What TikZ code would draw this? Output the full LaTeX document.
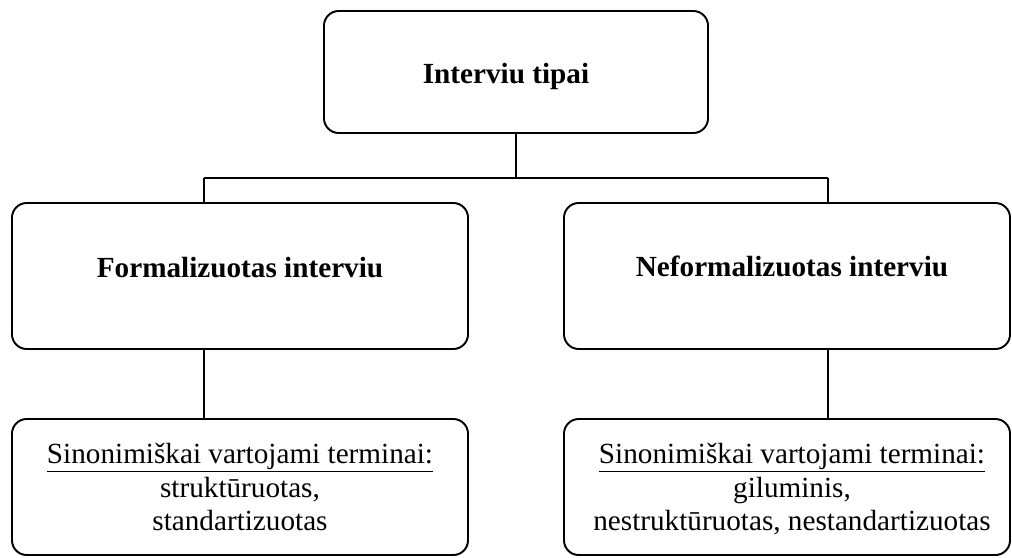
\documentclass[tikz,border=0pt]{standalone}
\usepackage{fontspec}
\setmainfont{Liberation Serif}
\newcommand{\myul}[1]{\tikz[baseline=(u.base)]{\node[inner sep=0pt] (u) {#1};\draw[line width=0.9pt] ([yshift=-2.2pt]u.base west) -- ([yshift=-2.2pt]u.base east);}}
\begin{document}
\begin{tikzpicture}[x=0.75pt,y=-0.75pt,
  box/.style={draw=black,line width=1.45pt,rounded corners=11pt,inner sep=0pt},
  lbl/.style={anchor=base,inner sep=0pt,font=\fontsize{21.9}{25.2}\selectfont},
  conn/.style={draw=black,line width=1.45pt}]
\useasboundingbox (0,0) rectangle (1012,557);
% boxes
\node[box,minimum width=384*0.75pt,minimum height=122*0.75pt] (top) at (516,72) {};
\node[box,minimum width=456*0.75pt,minimum height=146*0.75pt] (left) at (240,276) {};
\node[box,minimum width=446*0.75pt,minimum height=146*0.75pt] (right) at (787,276) {};
\node[box,minimum width=456*0.75pt,minimum height=136*0.75pt] (botl) at (240,487) {};
\node[box,minimum width=446*0.75pt,minimum height=136*0.75pt] (botr) at (787,487) {};
% texts
\node[lbl] (ttop) at (506,83) {\textbf{Interviu tipai}};
\node[lbl] (tleft) at (240,277) {\textbf{Formalizuotas interviu}};
\node[lbl] (tright) at (792,276) {\textbf{Neformalizuotas interviu}};
\node[lbl] (bl1) at (240,463) {\underline{Sinonimiškai vartojami terminai:}};
\node[lbl] (bl2) at (240,497) {struktūruotas,};
\node[lbl] (bl3) at (240,530) {standartizuotas};
\node[lbl] (br1) at (792,463) {\underline{Sinonimiškai vartojami terminai:}};
\node[lbl] (br2) at (792,497) {giluminis,};
\node[lbl] (br3) at (792,530) {nestruktūruotas, nestandartizuotas};
% connectors
\coordinate (jl) at (204,178);
\coordinate (jr) at (828,178);
\draw[conn] (top.south) -- (top.south |- jl);
\draw[conn] (jl) -- (jr);
\draw[conn] (jl) -- (jl |- left.north);
\draw[conn] (jr) -- (jr |- right.north);
\draw[conn] (jl |- left.south) -- (jl |- botl.north);
\draw[conn] (jr |- right.south) -- (jr |- botr.north);
\end{tikzpicture}
\end{document}
